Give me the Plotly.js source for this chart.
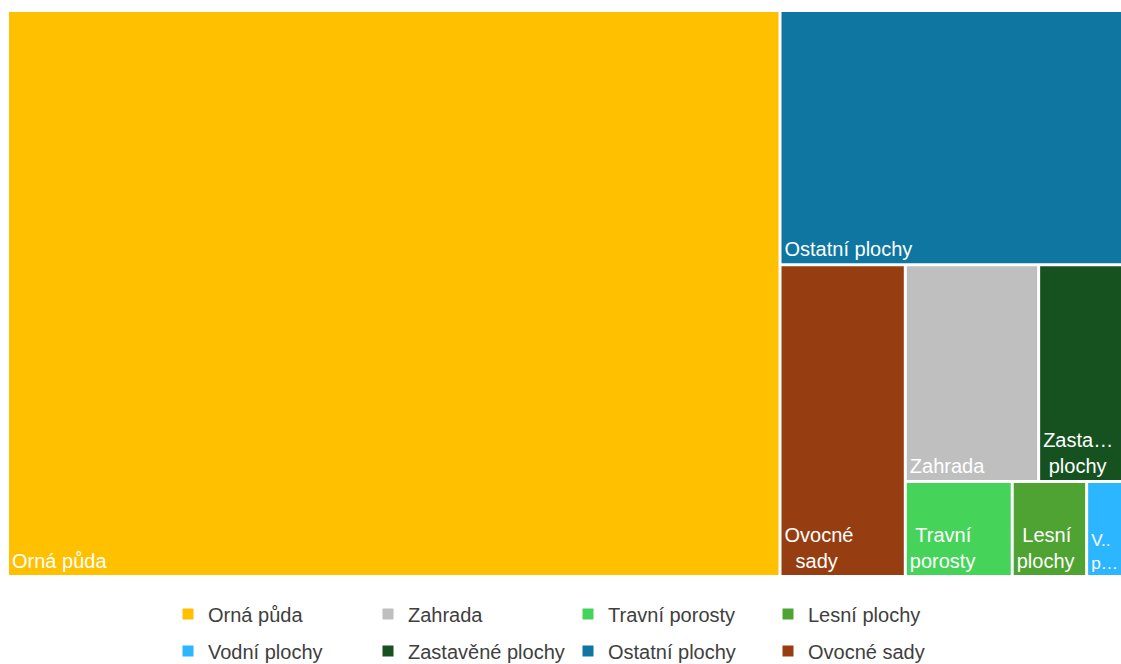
<!DOCTYPE html>
<html>
<head>
<meta charset="utf-8">
<script src="https://cdn.plot.ly/plotly-3.0.1.min.js"></script>
<style>html,body{margin:0;padding:0;background:#fff;}#chart{width:1121px;height:664px;}</style>
</head>
<body>
<div id="chart"></div>
<script>
// Land-use categories (legend order)
const categories = ['Orná půda','Zahrada','Travní porosty','Lesní plochy','Vodní plochy','Zastavěné plochy','Ostatní plochy','Ovocné sady'];
// Share of area (%) read from tile areas
const shares = [69.29, 4.58, 1.61, 1.12, 0.54, 2.88, 13.80, 6.19];
const colors = ['#FFC000','#BFBFBF','#46D35A','#4EA332','#2BB6FF','#16521F','#0E76A0','#963E11'];
// Tile labels as shown (wrapped / shortened)
const tileTexts = ['Orná půda','Zahrada','\u00a0Travní<br>porosty','\u00a0Lesní<br>plochy','V..<br>p…','Zasta…<br>\u00a0plochy','Ostatní plochy','Ovocné<br>\u00a0\u00a0sady'];
// Nesting of tiles used for the layout
const tileParents = ['root','g4','g5','g5','g5','g4','g1','g2'];
const groupIds = ['root','g1','g2','g3','g4','g5'];
const groupParents = ['','root','g1','g2','g3','g3'];
const nodeOrder = ['root','Orná půda','g1','Ostatní plochy','g2','Ovocné sady','g3','g4','Zahrada','Zastavěné plochy','g5','Travní porosty','Lesní plochy','Vodní plochy'];
const legendRows = [['Orná půda','Zahrada','Travní porosty','Lesní plochy'],['Vodní plochy','Zastavěné plochy','Ostatní plochy','Ovocné sady']];

const ids = [], parents = [], values = [], nodeColors = [], texts = [];
nodeOrder.forEach(function(id){
  const ci = categories.indexOf(id);
  ids.push(id);
  if (ci >= 0) {
    parents.push(tileParents[ci]); values.push(shares[ci]); nodeColors.push(colors[ci]); texts.push(tileTexts[ci]);
  } else {
    const gi = groupIds.indexOf(id);
    parents.push(groupParents[gi]); values.push(0); nodeColors.push('#ffffff'); texts.push('');
  }
});

const FONT = 'Liberation Sans, Arial, sans-serif';
const traces = [{
  type: 'treemap',
  ids: ids, labels: ids, parents: parents, values: values, text: texts,
  branchvalues: 'remainder',
  sort: false,
  texttemplate: '%{text}',
  textposition: 'bottom left',
  textfont: {family: FONT, size: 20, color: '#ffffff'},
  insidetextfont: {family: FONT, size: 20, color: '#ffffff'},
  marker: {colors: nodeColors, line: {width: 0, color: '#ffffff'}, pad: {t: 0, l: 0, r: 0, b: 0}},
  leaf: {opacity: 1},
  tiling: {packing: 'slice-dice', pad: 3},
  pathbar: {visible: false},
  hoverinfo: 'label+value',
  domain: {x: [9/1121, 1], y: [1 - 575/664, 1 - 12/664]}
}];

legendRows.forEach(function(row, ri){
  row.forEach(function(name){
    const ci = categories.indexOf(name);
    traces.push({
      type: 'scatter', mode: 'markers', x: [null], y: [null], name: name,
      marker: {symbol: 'square', size: 11, color: colors[ci]},
      legend: ri === 0 ? 'legend' : 'legend2', showlegend: true, hoverinfo: 'skip'
    });
  });
});

const legendBase = {orientation: 'h', xanchor: 'left', yanchor: 'middle', x: 168/1121,
  bgcolor: 'rgba(0,0,0,0)', borderwidth: 0, entrywidth: 155, entrywidthmode: 'pixels',
  font: {family: FONT, size: 20, color: '#404040'}, itemclick: false, itemdoubleclick: false};

const layout = {
  width: 1121, height: 664,
  margin: {l: 0, r: 0, t: 0, b: 0, autoexpand: false},
  paper_bgcolor: '#ffffff', plot_bgcolor: 'rgba(0,0,0,0)',
  showlegend: true,
  xaxis: {visible: false}, yaxis: {visible: false},
  legend: Object.assign({}, legendBase, {y: 1 - 614/664}),
  legend2: Object.assign({}, legendBase, {y: 1 - 651/664}),
  font: {family: FONT}
};

Plotly.newPlot('chart', traces, layout, {displayModeBar: false, staticPlot: true});
</script>
</body>
</html>
